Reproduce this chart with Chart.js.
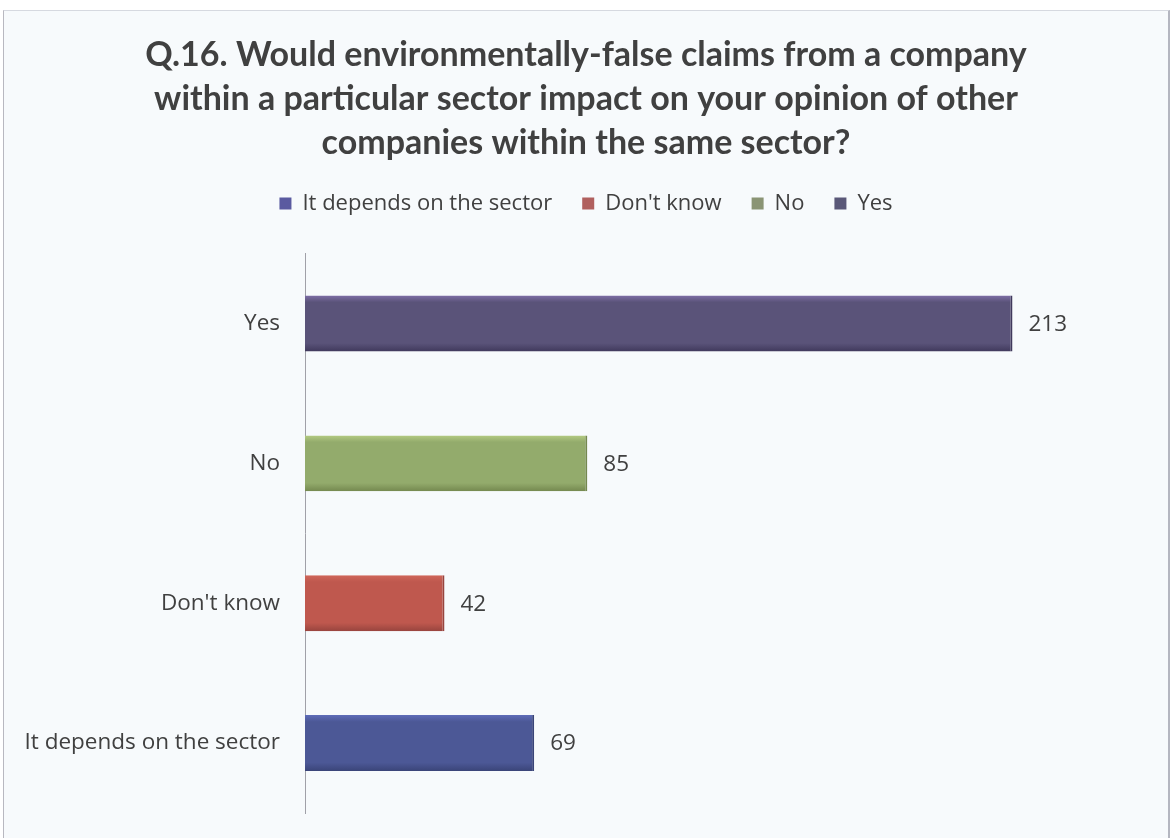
<!DOCTYPE html>
<html>
<head>
<meta charset="utf-8">
<title>Q.16</title>
<script src="https://cdn.jsdelivr.net/npm/chart.js@4.4.0/dist/chart.umd.min.js"></script>
<style>
    html, body { margin: 0; padding: 0; background: #ffffff; }
    #wrap {
        position: absolute; left: 3px; top: 10px; width: 1164px; height: 828px;
        background: #f7fafc; border-left: 1px solid #b8b8c0; border-top: 1px solid #d6d9e0;
        border-right: 2px solid #b4b6c0;
    }
    canvas { position: absolute; left: -4px; top: -11px; }
</style>
</head>
<body>
<div id="wrap">
    <canvas id="chart_q16" width="1172" height="838"></canvas>
</div>
<script>
// Survey answers, top to bottom on the chart
const categories = ['Yes', 'No', "Don't know", 'It depends on the sector'];
const answerCounts = [213, 85, 42, 69];

// One series per answer so each gets its own legend entry (legend reads bottom-up)
const seriesNames = ['It depends on the sector', "Don't know", 'No', 'Yes'];
// bar shading: top highlight, body, bottom edge
const seriesTop = ['#5e6cb8', '#d0665a', '#b4cb82', '#7e6ea6'];
const seriesBody = ['#4c5896', '#bf584e', '#93ab6c', '#5a5379'];
const seriesBottom = ['#3a4478', '#98443e', '#74884f', '#40395c'];
const legendColors = ['#5a5aa0', '#b0605e', '#8a9474', '#5a5878'];

const titleLines = [
    'Q.16. Would environmentally-false claims from a company',
    'within a particular sector impact on your opinion of other',
    'companies within the same sector?'
];

// builds the per-series data: value only at the series' own category
function seriesData(name) {
    return categories.map((c, i) => (c === name ? answerCounts[i] : null));
}

// vertical shading across one bar, placed from the category scale
function barFill(k) {
    return function (c) {
        const chart = c.chart;
        const yScale = chart.scales.y;
        if (!yScale || c.dataIndex == null) return seriesBody[k];
        const yc = yScale.getPixelForValue(c.dataIndex);
        const half = 28;
        const g = chart.ctx.createLinearGradient(0, yc - half, 0, yc + half);
        g.addColorStop(0, seriesTop[k]);
        g.addColorStop(0.12, seriesBody[k]);
        g.addColorStop(0.85, seriesBody[k]);
        g.addColorStop(1, seriesBottom[k]);
        return g;
    };
}

const datasets = seriesNames.map((name, k) => ({
    label: name,
    data: seriesData(name),
    backgroundColor: barFill(k),
    borderColor: seriesBottom[k],
    borderWidth: { right: 2, top: 0, bottom: 0, left: 0 },
    barPercentage: 0.4,
    categoryPercentage: 1.0
}));

// value labels just right of each bar end
const valueLabels = {
    id: 'valueLabels',
    afterDatasetsDraw(chart) {
        const ctx = chart.ctx;
        ctx.save();
        ctx.font = '22.5px "Open Sans", sans-serif';
        ctx.fillStyle = '#404040';
        ctx.textBaseline = 'middle';
        chart.data.datasets.forEach((ds, di) => {
            const meta = chart.getDatasetMeta(di);
            meta.data.forEach((bar, i) => {
                if (ds.data[i] == null) return;
                ctx.fillText(String(ds.data[i]), bar.x + 16, bar.y + 1);
            });
        });
        ctx.restore();
    }
};

const ctx = document.getElementById('chart_q16').getContext('2d');
const q16Chart = new Chart(ctx, {
    type: 'bar',
    data: { labels: categories, datasets: datasets },
    plugins: [valueLabels],
    options: {
        indexAxis: 'y',
        responsive: false,
        animation: false,
        layout: { padding: { top: 33, right: 20, bottom: 25, left: 20 } },
        plugins: {
            title: {
                display: true,
                text: titleLines,
                color: '#404040',
                font: { family: 'Lato', size: 34, weight: 'bold', lineHeight: 1.3 },
                padding: { top: 0, bottom: -3 }
            },
            // empty spacer between the legend and the plot
            subtitle: {
                display: true,
                text: '',
                weight: 500,
                font: { size: 1, lineHeight: 1 },
                padding: { top: 0, bottom: 28 }
            },
            legend: {
                display: true,
                labels: {
                    color: '#404040',
                    font: { family: '"Open Sans"', size: 22 },
                    boxWidth: 12,
                    boxHeight: 12,
                    padding: 30,
                    generateLabels(chart) {
                        return chart.data.datasets.map((ds, i) => ({
                            text: ds.label,
                            fillStyle: legendColors[i],
                            strokeStyle: legendColors[i],
                            lineWidth: 0,
                            datasetIndex: i,
                            fontColor: '#404040'
                        }));
                    }
                }
            },
            tooltip: { enabled: false }
        },
        scales: {
            x: {
                display: false,
                min: 0,
                max: 255,
                stacked: true
            },
            y: {
                stacked: true,
                afterFit(scale) {
                    scale.width = 285;
                    scale.paddingTop = 0;
                    scale.paddingBottom = 0;
                },
                grid: { display: false, drawTicks: false },
                border: { display: true, color: '#a0a0a8', dash: [1, 2], width: 1 },
                ticks: {
                    color: '#404040',
                    font: { family: '"Open Sans"', size: 22.5 },
                    padding: 25
                }
            }
        }
    }
});
</script>
</body>
</html>
